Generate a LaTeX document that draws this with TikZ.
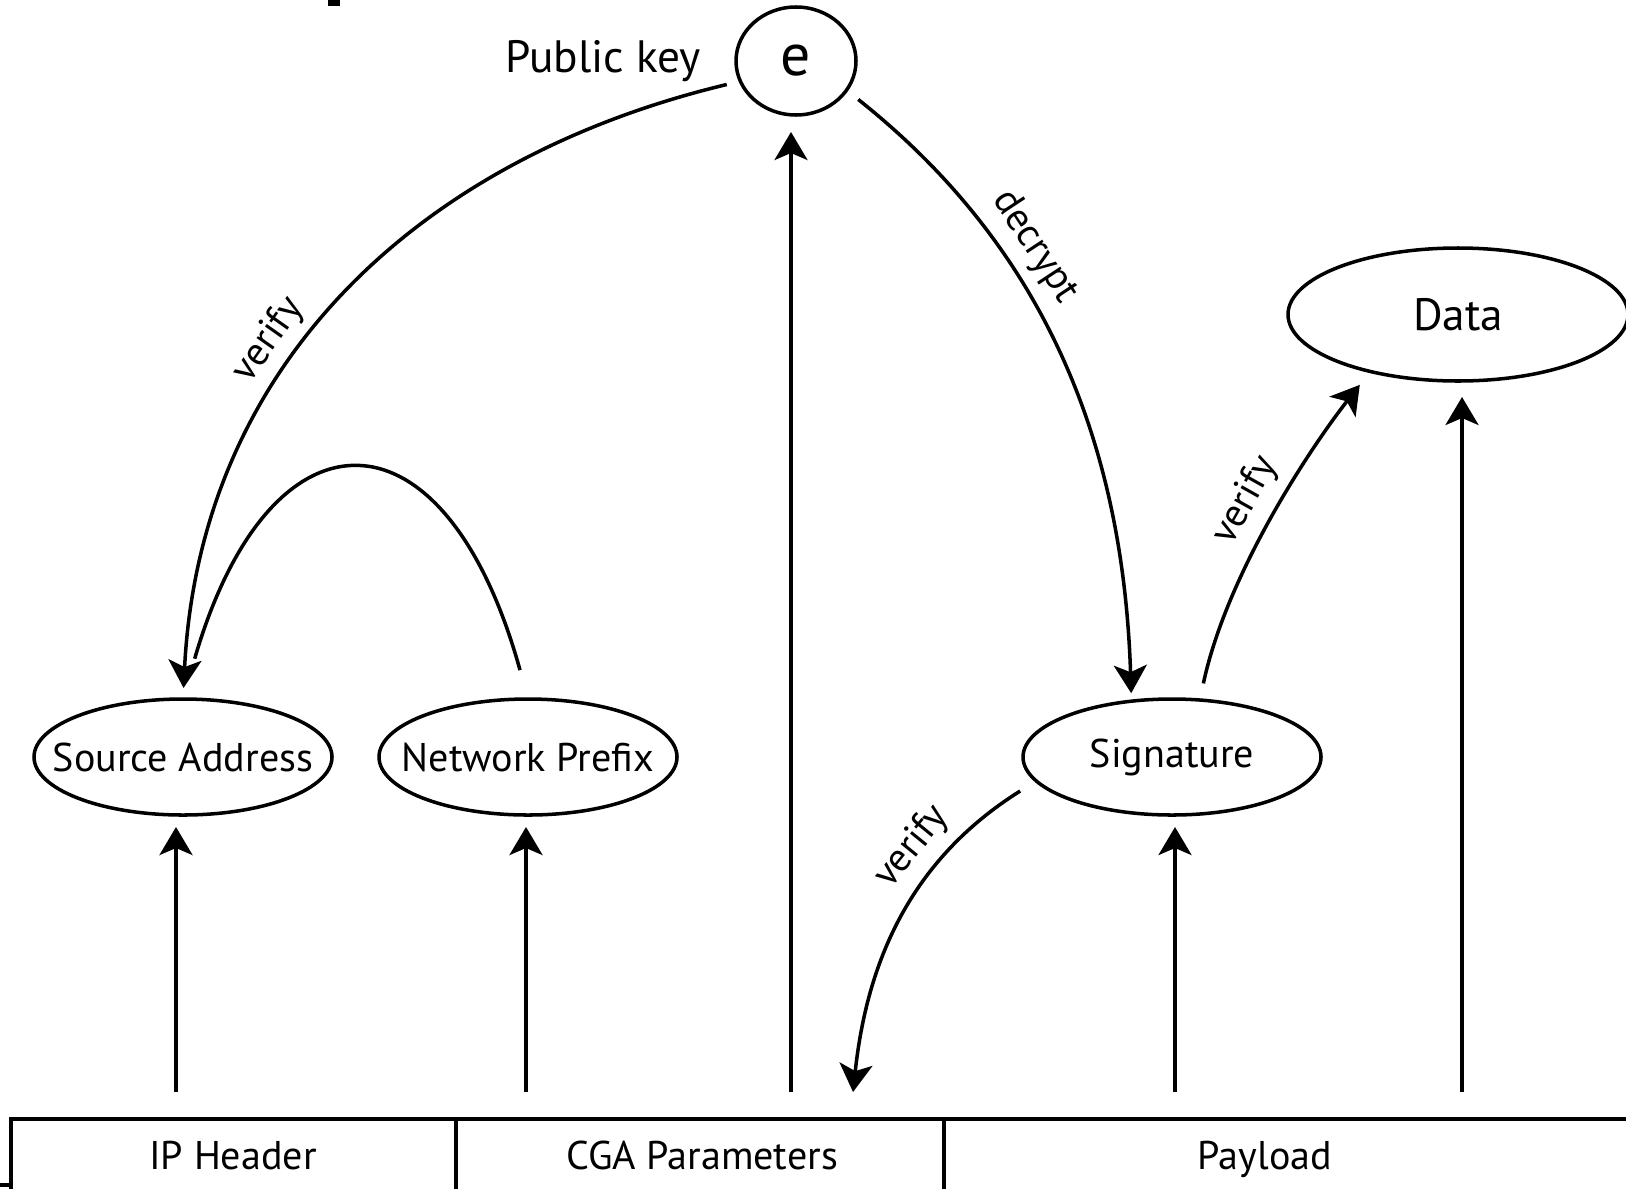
\documentclass[tikz,border=0pt]{standalone}
\usepackage{fontspec}
\setmainfont{PT Sans}
\usetikzlibrary{arrows.meta}
\usetikzlibrary{shapes.geometric}

\tikzset{
	field/.style={draw, ellipse, inner sep=0pt, outer sep=0pt},
	arr/.style={-{Stealth[length=0.28cm, width=0.33cm, inset=0.07cm]}},
	lbl/.style={sloped, above, font=\fontsize{11.3}{13}\selectfont},
}

\begin{document}
\begin{tikzpicture}[line width=1pt, font=\fontsize{11.4}{13}\selectfont]
		\useasboundingbox (0,0) rectangle (16.26,11.88);
		\clip (0,0) rectangle (16.26,11.88);
		
		%KEY
		\node[field, minimum width=1.2cm, minimum height=1.08cm, font=\fontsize{17}{20}\selectfont,
			label={[font=\fontsize{12.9}{15}\selectfont, label distance=0.22cm]left:Public key}] (pubkey) at (7.96,11.27) {e};
		
		%FIELDS
		\node[field, minimum width=2.98cm, minimum height=1.16cm, label=center:Source Address] (srcaddr) at (1.83,4.31) {};
		\node[field, minimum width=2.98cm, minimum height=1.16cm, label=center:Network Prefix] (netprefix) at (5.28,4.31) {};
		\node[field, minimum width=2.98cm, minimum height=1.16cm, label=center:Signature] (sig) at (11.72,4.31) {};
		\node[field, minimum width=3.40cm, minimum height=1.33cm,
			label={[font=\fontsize{12.9}{15}\selectfont]center:Data}] (data) at (14.58,8.735) {};
		
		%PACKET
		\draw (0.11,-0.2) |- (16.5,0.69);
		\draw (4.56,-0.2) -- (4.56,0.69);
		\draw (9.44,-0.2) -- (9.44,0.69);
		\draw (0,0.03) -- (0.11,0.03);
		\node[anchor=base] (iphdr) at (2.33,0.19) {IP Header};
		\node[anchor=base] (cga) at (7.02,0.19) {CGA Parameters};
		\node[anchor=base] (payload) at (12.65,0.19) {Payload};
		\fill (3.28,11.82) rectangle (3.40,11.95);
		
		%frecce
		\coordinate (s1) at (1.76,0.96);
		\coordinate (s2) at (5.26,0.96);
		\coordinate (s3) at (7.91,0.96);
		\coordinate (s4) at (11.75,0.96);
		\coordinate (s5) at (14.62,0.96);
		\coordinate (v1) at (8.53,0.96);
		\draw[arr, shorten >=0.12cm] (s1) -- (s1 |- srcaddr.south);
		\draw[arr, shorten >=0.12cm] (s2) -- (s2 |- netprefix.south);
		\draw[arr, shorten >=0.17cm] (s3) -- (s3 |- pubkey.south);
		\draw[arr, shorten >=0.12cm] (s4) -- (s4 |- sig.south);
		\draw[arr, shorten >=0.16cm] (s5) -- (s5 |- data.south);
		
		%curve
		\draw[arr, shorten <=0.14cm, shorten >=0.11cm] (pubkey.200) .. controls (4.2,10.3) and (2.0,8.25) .. (srcaddr.north)
			node[lbl, pos=0.6] {verify};
		\draw[shorten <=0.3cm, shorten >=0.42cm] (netprefix.north) .. controls (4.45,7.89) and (2.70,7.89) .. (srcaddr.north);
		\draw[arr, shorten <=0.15cm, shorten >=0.08cm] (pubkey.-30) .. controls (10.2,9.6) and (11.22,7.8) .. (sig.126)
			node[lbl, pos=0.37] {decrypt};
		\draw[arr, shorten <=0.17cm, shorten >=0.17cm] (sig.64) .. controls (12.27,6.15) and (13.11,7.41) .. (data.213)
			node[lbl, pos=0.5] {verify};
		\draw[arr, shorten <=0.19cm] (sig.190) .. controls (9.10,3.28) and (8.67,2.26) .. (v1)
			node[lbl, pos=0.33] {verify};
		
\end{tikzpicture}
\end{document}
